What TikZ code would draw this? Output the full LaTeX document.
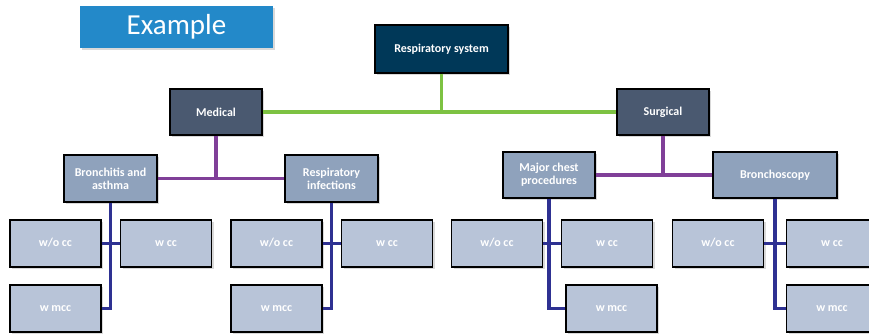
\documentclass[tikz,border=0pt]{standalone}
\usepackage{fontspec}
\setmainfont{Carlito}
\usetikzlibrary{shadows}
\definecolor{titleblue}{RGB}{35,137,201}
\definecolor{rootnavy}{RGB}{0,56,88}
\definecolor{levelone}{RGB}{74,89,112}
\definecolor{leveltwo}{RGB}{143,162,188}
\definecolor{levelleaf}{RGB}{184,196,216}
\definecolor{greenlink}{RGB}{125,194,66}
\definecolor{purplelink}{RGB}{128,63,152}
\definecolor{bluelink}{RGB}{46,49,146}
\begin{document}
\begin{tikzpicture}[x=1pt,y=1pt,
    box/.style={draw=black,line width=1.4pt,text=white,align=center,
        font=\bfseries\fontsize{12}{13}\selectfont,inner sep=0pt,
        drop shadow={opacity=0.3,shadow xshift=2pt,shadow yshift=-2pt}},
    leaf/.style={box,fill=levelleaf,minimum width=91pt,minimum height=47pt,
        text height=1.6ex,text depth=0.4ex},
    green line/.style={draw=greenlink,line width=3.5pt},
    purple line/.style={draw=purplelink,line width=3.5pt},
    blue line/.style={draw=bluelink,line width=3.5pt}]
    \useasboundingbox (0,0) rectangle (869,-333);

    \node[fill=titleblue,text=white,minimum width=193pt,minimum height=42pt,
        font=\fontsize{29}{32}\selectfont,
        drop shadow={opacity=0.3,shadow xshift=2pt,shadow yshift=-2pt}] (example) at (176.5,-27) {Example};

    \node[box,fill=rootnavy,minimum width=133pt,minimum height=48pt] (resp) at (441.5,-49) {Respiratory system};

    \node[box,fill=levelone,minimum width=92pt,minimum height=46pt] (medical) at (216,-112) {Medical};
    \node[box,fill=levelone,minimum width=92pt,minimum height=46pt] (surgical) at (663,-112) {Surgical};

    \node[box,fill=leveltwo,minimum width=93pt,minimum height=47pt] (bronchitis) at (110.5,-178.5) {Bronchitis and\\asthma};
    \node[box,fill=leveltwo,minimum width=93pt,minimum height=47pt] (infections) at (331.5,-178.5) {Respiratory\\infections};
    \node[box,fill=leveltwo,minimum width=92pt,minimum height=46pt] (chest) at (549,-175) {Major chest\\procedures};
    \node[box,fill=leveltwo,minimum width=124pt,minimum height=46pt] (scopy) at (775,-175) {Bronchoscopy};

    \node[leaf] (bronchitis-wocc) at (55.5,-243.5) {w/o cc};
    \node[leaf] (bronchitis-wcc) at (166,-243.5) {w cc};
    \node[leaf] (bronchitis-wmcc) at (55.5,-308.5) {w mcc};
    \node[leaf] (infections-wocc) at (276.5,-243.5) {w/o cc};
    \node[leaf] (infections-wcc) at (387,-243.5) {w cc};
    \node[leaf] (infections-wmcc) at (276.5,-308.5) {w mcc};
    \node[leaf] (chest-wocc) at (497,-243.5) {w/o cc};
    \node[leaf] (chest-wcc) at (607,-243.5) {w cc};
    \node[leaf] (chest-wmcc) at (611.5,-308.5) {w mcc};
    \node[leaf] (scopy-wocc) at (718,-243.5) {w/o cc};
    \node[leaf] (scopy-wcc) at (832,-243.5) {w cc};
    \node[leaf] (scopy-wmcc) at (832,-308.5) {w mcc};

    % top level
    \path[green line] (medical) -- (surgical);
    \path[green line] (resp.south) -- (resp.south |- medical);

    % second level
    \path[purple line] (bronchitis) -- (infections);
    \path[purple line] (medical.south) -- (medical.south |- bronchitis);
    \path[purple line] (chest) -- (scopy);
    \path[purple line] (surgical.south) -- (surgical.south |- scopy);

    % leaves
    \path[blue line] (bronchitis.south) |- (bronchitis-wmcc.east);
    \path[blue line] (bronchitis-wocc) -- (bronchitis-wcc);
    \path[blue line] (infections.south) |- (infections-wmcc.east);
    \path[blue line] (infections-wocc) -- (infections-wcc);
    \path[blue line] (chest.south) |- (chest-wmcc.west);
    \path[blue line] (chest-wocc) -- (chest-wcc);
    \path[blue line] (scopy.south) |- (scopy-wmcc.west);
    \path[blue line] (scopy-wocc) -- (scopy-wcc);
\end{tikzpicture}
\end{document}
